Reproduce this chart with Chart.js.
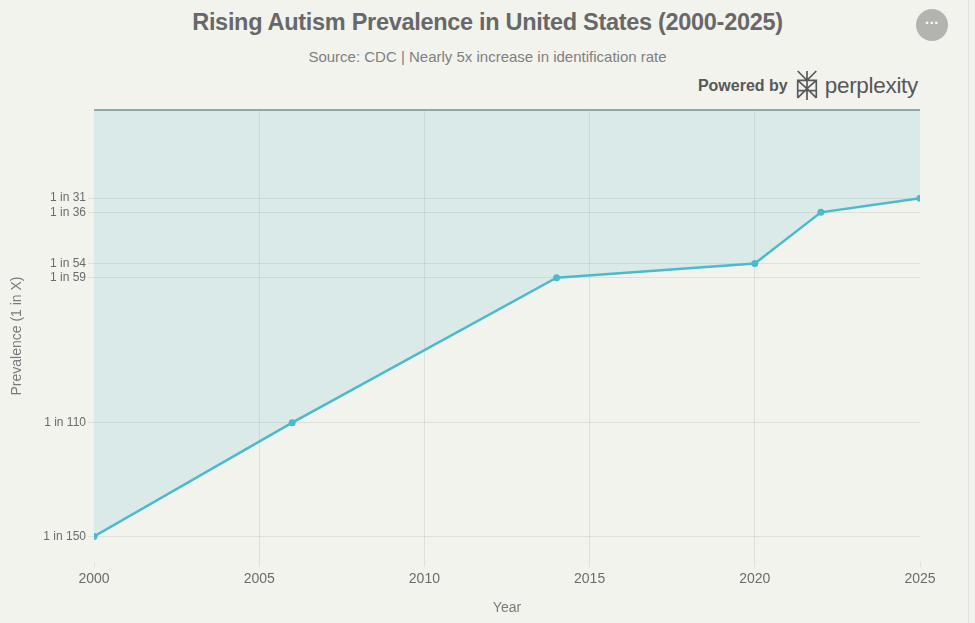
<!DOCTYPE html>
<html>
<head>
<meta charset="utf-8">
<title>Rising Autism Prevalence in United States (2000-2025)</title>
<script src="https://cdn.jsdelivr.net/npm/chart.js@4/dist/chart.umd.min.js"></script>
<style>
  html, body { margin: 0; padding: 0; background: #f1f1ed; }
  body { width: 975px; height: 623px; overflow: hidden; position: relative; font-family: "Liberation Sans", Arial, sans-serif; }
  #card { position: absolute; left: 0; top: 0; width: 968px; height: 623px; background: #f3f3ee; border-right: 1px solid #e2e2dd; }
  #title { position: absolute; left: 0; width: 975px; top: 9px; text-align: center; font-size: 23.5px; font-weight: bold; color: #686868; letter-spacing: -0.3px; }
  #subtitle { position: absolute; left: 0; width: 975px; top: 48px; text-align: center; font-size: 15px; color: #808080; }
  #powered { position: absolute; right: 57px; top: 70px; display: flex; align-items: center; color: #585858; }
  #powered .by { font-size: 16px; font-weight: bold; margin-right: 6px; }
  #powered .brand { font-size: 22.5px; margin-left: 5px; letter-spacing: -0.3px; }
  #menu { position: absolute; left: 916px; top: 9px; width: 32px; height: 32px; border-radius: 50%; background: #b3b3af; color: #fff; font-size: 14px; font-weight: bold; text-align: center; line-height: 28px; }
  #chart { position: absolute; left: 0; top: 0; }
</style>
</head>
<body>
<div id="card"></div>
<div id="title">Rising Autism Prevalence in United States (2000-2025)</div>
<div id="subtitle">Source: CDC | Nearly 5x increase in identification rate</div>
<div id="powered">
  <span class="by">Powered by</span>
  <svg width="26" height="31" viewBox="0 0 24 30">
    <g fill="none" stroke="#585858" stroke-width="1.6">
      <path d="M3 1 L12 10 L21 1 M12 1 V29 M3 10 H21 V20 H3 Z M3 10 L12 18 L21 10 M3 27 L12 18 L21 27 M3 20 V27 M21 20 V27"/>
    </g>
  </svg>
  <span class="brand">perplexity</span>
</div>
<div id="menu">···</div>
<canvas id="chart" width="975" height="623"></canvas>
<script>
// chart values
var years = [2000, 2006, 2014, 2020, 2022, 2025];
var prevalence = [150, 110, 59, 54, 36, 31];   // "1 in X"
var yTicks = [0, 31, 36, 54, 59, 110, 150];

var lineColor = 'rgb(75, 187, 204)';
var gridColor = 'rgba(0, 0, 0, 0.08)';
var textColor = '#6b6b6b';
var fontFamily = '"Liberation Sans", Arial, sans-serif';

var points = years.map(function (y, i) { return { x: y, y: prevalence[i] }; });

var ctx = document.getElementById('chart').getContext('2d');
var myChart = new Chart(ctx, {
  type: 'line',
  data: {
    datasets: [{
      label: 'Prevalence',
      data: points,
      borderColor: lineColor,
      backgroundColor: 'rgba(75, 187, 204, 0.15)',
      borderWidth: 2.5,
      pointRadius: 3.5,
      pointBackgroundColor: lineColor,
      pointBorderColor: lineColor,
      pointBorderWidth: 0,
      tension: 0,
      fill: 'end'
    }]
  },
  options: {
    responsive: false,
    animation: false,
    layout: { padding: { top: 110, right: 55, left: 0, bottom: 0 } },
    plugins: {
      legend: { display: false },
      tooltip: { enabled: false }
    },
    scales: {
      x: {
        type: 'linear',
        min: 2000,
        max: 2025,
        afterFit: function (scale) { scale.height = 61; },
        ticks: {
          stepSize: 5,
          padding: 4,
          color: textColor,
          font: { family: fontFamily, size: 14 },
          callback: function (v) { return String(v); }
        },
        grid: {
          color: function (c) {
            if (c.tick && (c.tick.value === 2000 || c.tick.value === 2025)) return 'rgba(0,0,0,0)';
            return gridColor;
          },
          tickColor: gridColor,
          tickLength: 5
        },
        border: { display: false },
        title: {
          display: true,
          text: 'Year',
          color: '#7a7a7a',
          font: { family: fontFamily, size: 14 },
          padding: { top: 0, bottom: 6 }
        }
      },
      y: {
        type: 'linear',
        reverse: true,
        min: 0,
        max: 159,
        afterFit: function (scale) { scale.width = 94; },
        afterBuildTicks: function (scale) {
          scale.ticks = yTicks.map(function (v) { return { value: v }; });
        },
        ticks: {
          padding: 2,
          color: textColor,
          font: { family: fontFamily, size: 12 },
          callback: function (v) { return v === 0 ? '' : '1 in ' + v; }
        },
        grid: {
          color: function (c) {
            if (c.tick && c.tick.value === 0) return '#9ea3a3';
            return gridColor;
          },
          lineWidth: function (c) {
            return (c.tick && c.tick.value === 0) ? 2 : 1;
          },
          tickColor: function (c) {
            return (c.tick && c.tick.value === 0) ? 'rgba(0,0,0,0)' : gridColor;
          },
          tickLength: 6
        },
        border: { display: false },
        title: {
          display: true,
          text: 'Prevalence (1 in X)',
          color: '#7a7a7a',
          font: { family: fontFamily, size: 14 },
          padding: { top: 9, bottom: 0 }
        }
      }
    }
  }
});
</script>
</body>
</html>
